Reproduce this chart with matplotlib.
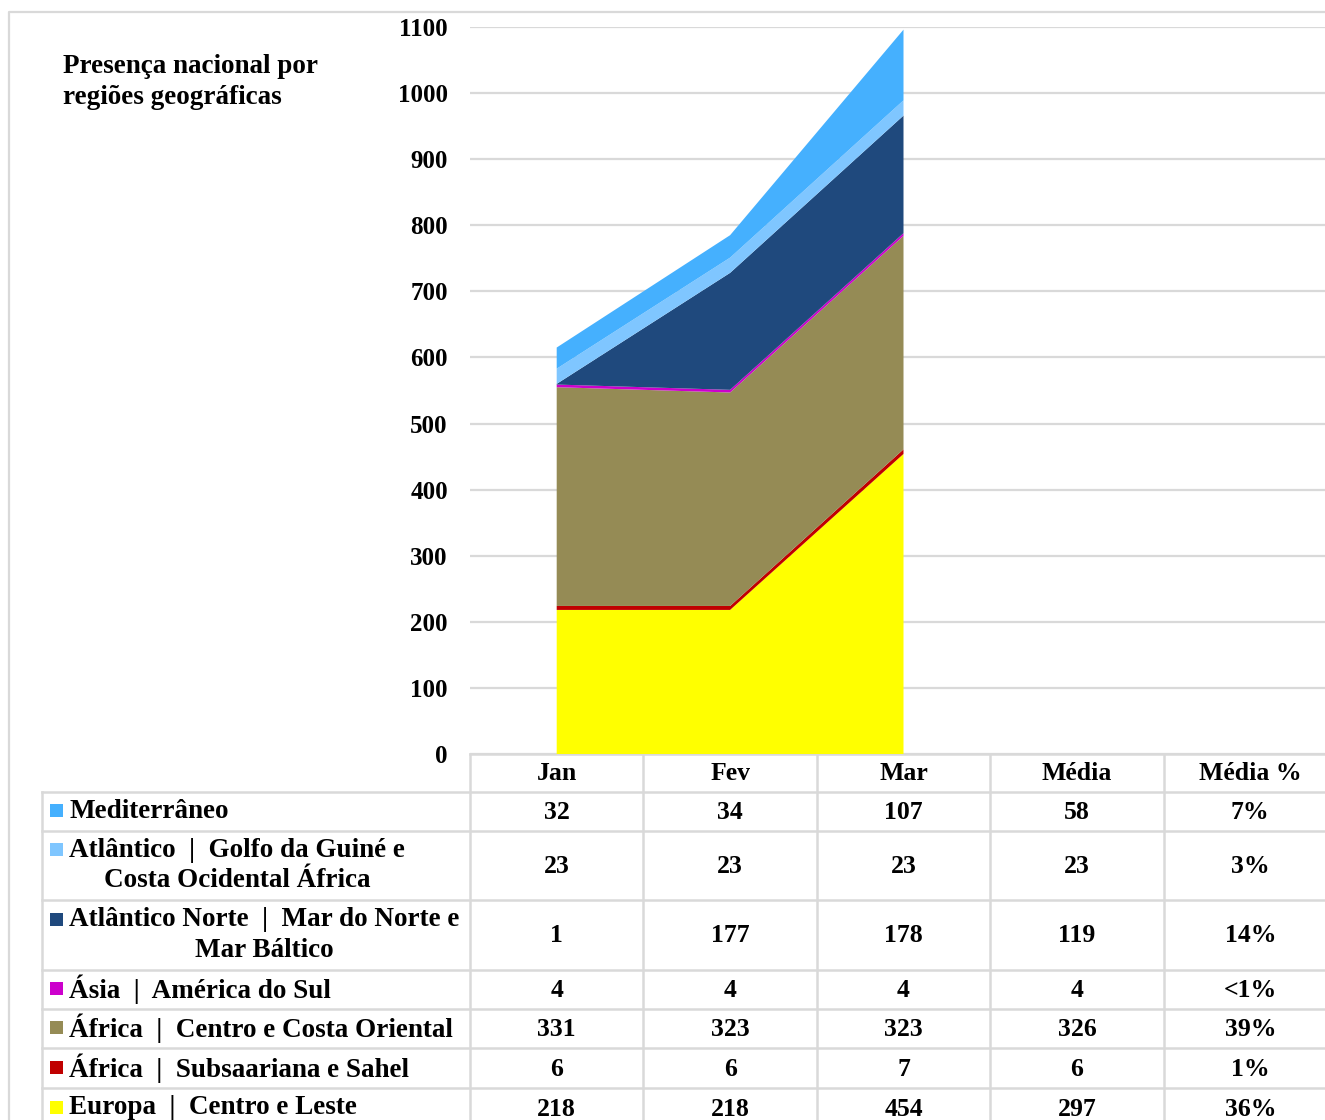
import matplotlib
matplotlib.use("Agg")
import matplotlib.pyplot as plt
from matplotlib.patches import Rectangle

plt.rcParams['font.family'] = ['Liberation Serif', 'DejaVu Serif']
plt.rcParams['font.weight'] = 'bold'

# data (table order, top to bottom)
months = ["Jan", "Fev", "Mar"]
columns = ["Jan", "Fev", "Mar", "Média", "Média %"]
regions = [
    "Mediterrâneo",
    "Atlântico  |  Golfo da Guiné e\nCosta Ocidental África",
    "Atlântico Norte  |  Mar do Norte e\nMar Báltico",
    "Ásia  |  América do Sul",
    "África  |  Centro e Costa Oriental",
    "África  |  Subsaariana e Sahel",
    "Europa  |  Centro e Leste",
]
mediterraneo = [32, 34, 107]
golfo_guine = [23, 23, 23]
atlantico_norte = [1, 177, 178]
asia_america = [4, 4, 4]
africa_centro = [331, 323, 323]
africa_sahel = [6, 6, 7]
europa = [218, 218, 454]
media = [58, 23, 119, 4, 326, 6, 297]
media_pct = ["7%", "3%", "14%", "<1%", "39%", "1%", "36%"]
colors = ["#45B0FE", "#7FC6FF", "#1F497D", "#CC00CC", "#958B55", "#C00000", "#FFFF00"]

series = [mediterraneo, golfo_guine, atlantico_norte, asia_america,
          africa_centro, africa_sahel, europa]

W, H = 1325, 1120
fig = plt.figure(figsize=(W / 100, H / 100), dpi=100)

# background axes in pixel coords for frame + table
bg = fig.add_axes([0, 0, 1, 1])
bg.set_xlim(0, W)
bg.set_ylim(H, 0)
bg.axis('off')

grey = "#D9D9D9"
# outer chart border
bg.plot([9, 9, W + 5], [H + 5, 12, 12], color=grey, lw=1.6, solid_capstyle='butt')

# main area chart
x0, colw = 470, 173.4
ax = fig.add_axes([x0 / W, (H - 754) / H, 5 * colw / W, (754 - 27) / H])
ax.patch.set_alpha(0)
ax.set_xlim(-0.5, 4.5)
ax.set_ylim(0, 1100)
ax.stackplot(range(len(months)), series[::-1], colors=colors[::-1], lw=0)
ax.set_yticks(range(0, 1101, 100))
ax.set_yticklabels([str(v) for v in range(0, 1101, 100)], fontsize=18, fontweight='bold')
ax.tick_params(axis='y', length=0, pad=16)
ax.set_xticks([])
ax.grid(axis='y', color=grey, lw=1.6)
ax.set_axisbelow(True)
for s in ax.spines.values():
    s.set_visible(False)

# title
bg.text(63, 82, "Presença nacional por\nregiões geográficas", fontsize=19.5,
        fontweight='bold', ha='left', va='center', linespacing=1.28)

# data table
edges = [754, 792, 831, 900, 970, 1009, 1048, 1088, 1128]
right = W + 5
lw_t = 1.8
bg.plot([x0, right], [edges[0], edges[0]], color=grey, lw=lw_t)
for y in edges[1:]:
    bg.plot([42, right], [y, y], color=grey, lw=lw_t)
bg.plot([42, 42], [edges[1], H + 5], color=grey, lw=lw_t)
for i in range(6):
    xv = x0 + i * colw
    bg.plot([xv, xv], [edges[0], H + 5], color=grey, lw=lw_t)

for j, c in enumerate(columns):
    bg.text(x0 + (j + 0.5) * colw, (edges[0] + edges[1]) / 2, c, fontsize=18.5,
            fontweight='bold', ha='center', va='center')

for r, name in enumerate(regions):
    yc = (edges[r + 1] + edges[r + 2]) / 2
    two = "\n" in name
    bg.text(69, yc, name, fontsize=19.5, fontweight='bold', ha='left',
            va='center', multialignment='center', linespacing=1.28)
    sy = yc - 16 if two else yc - 1
    bg.add_patch(Rectangle((50, sy - 6.5), 13, 13, color=colors[r], lw=0))
    vals = [str(v) for v in series[r]] + [str(media[r]), media_pct[r]]
    for j, v in enumerate(vals):
        bg.text(x0 + (j + 0.5) * colw, yc + 1, v, fontsize=18.5, fontweight='bold',
                ha='center', va='center')

fig.savefig("out.png", dpi=100)
